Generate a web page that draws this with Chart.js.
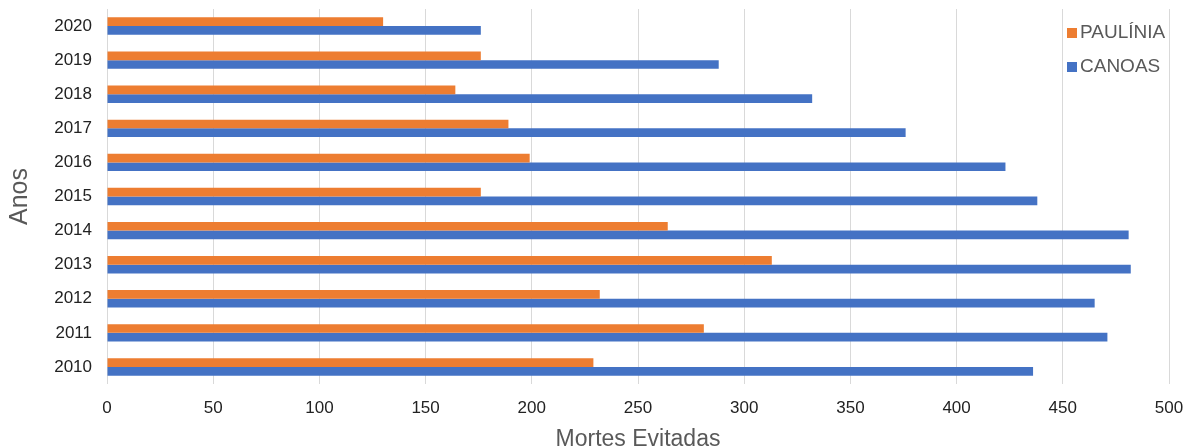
<!DOCTYPE html>
<html>
<head>
<meta charset="utf-8">
<script src="https://cdn.jsdelivr.net/npm/chart.js@4/dist/chart.umd.min.js"></script>
<style>
  html, body { margin: 0; padding: 0; background: #fff; }
  #wrap { width: 1186px; height: 448px; }
</style>
</head>
<body>
<div id="wrap"><canvas id="myChart"></canvas></div>
<script>
const anos = ['2010', '2011', '2012', '2013', '2014', '2015', '2016', '2017', '2018', '2019', '2020'];
const paulinia = [229, 281, 232, 313, 264, 176, 199, 189, 164, 176, 130];
const canoas = [436, 471, 465, 482, 481, 438, 423, 376, 332, 288, 176];
const xTicks = [0, 50, 100, 150, 200, 250, 300, 350, 400, 450, 500];

const FONT = "'Liberation Sans', Arial, sans-serif";

// legend drawn inside the plot, top right
const legendPlugin = {
    id: 'cornerLegend',
    afterDraw(chart) {
        const c = chart.ctx;
        c.save();
        c.font = '19px ' + FONT;
        c.textBaseline = 'middle';
        c.textAlign = 'left';
        chart.data.datasets.forEach((ds, i) => {
            const y = 33 + i * 34;
            c.fillStyle = ds.backgroundColor;
            c.fillRect(1067, y - 5, 10, 10);
            c.fillStyle = '#595959';
            c.fillText(ds.label, 1080, y);
        });
        c.restore();
    }
};

const ctx = document.getElementById('myChart').getContext('2d');
const chart = new Chart(ctx, {
    type: 'bar',
    data: {
        labels: anos,
        datasets: [
            { label: 'PAULÍNIA', data: paulinia, backgroundColor: '#ED7D31' },
            { label: 'CANOAS', data: canoas, backgroundColor: '#4472C4' }
        ]
    },
    options: {
        indexAxis: 'y',
        responsive: true,
        maintainAspectRatio: false,
        animation: false,
        categoryPercentage: 0.51,
        barPercentage: 1.0,
        layout: { padding: { top: 9, right: 17, bottom: 0, left: 0 } },
        plugins: {
            legend: { display: false },
            tooltip: { enabled: false }
        },
        scales: {
            x: {
                min: 0,
                max: 500,
                afterBuildTicks: s => { s.ticks = xTicks.map(v => ({ value: v })); },
                afterFit: s => { s.height = 64; s.paddingLeft = 0; s.paddingRight = 0; },
                grid: { color: '#d9d9d9', drawTicks: false },
                border: { display: false },
                ticks: { color: '#222', padding: 14, font: { family: FONT, size: 17 } },
                title: {
                    display: true,
                    text: 'Mortes Evitadas',
                    color: '#595959',
                    font: { family: FONT, size: 23, lineHeight: 0.7 },
                    padding: { top: 0, bottom: 0 }
                }
            },
            y: {
                reverse: true,
                afterFit: s => { s.width = 107; s.paddingTop = 0; s.paddingBottom = 0; },
                grid: { display: false, drawTicks: false },
                border: { display: false },
                ticks: { color: '#222', padding: 15, font: { family: FONT, size: 17 } },
                title: {
                    display: true,
                    text: 'Anos',
                    color: '#595959',
                    font: { family: FONT, size: 25 },
                    padding: { top: 5, bottom: 0 }
                }
            }
        }
    },
    plugins: [legendPlugin]
});
</script>
</body>
</html>
